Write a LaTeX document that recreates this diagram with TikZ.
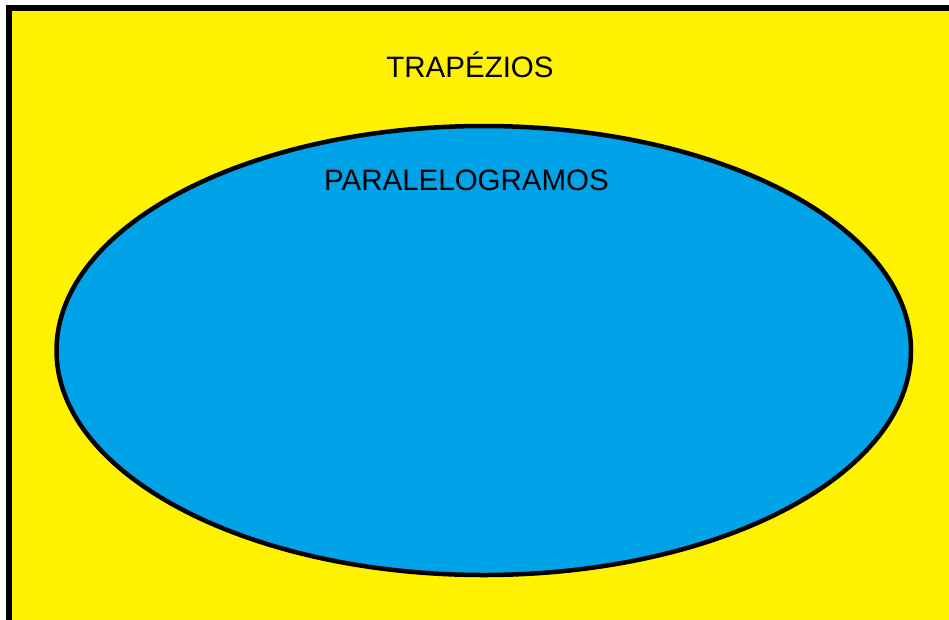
\documentclass[tikz,border=0pt]{standalone}
\usepackage{fontspec}
\setmainfont{Liberation Sans}
\usepackage{tikz}
\usepackage{color}

\definecolor{paintyellow}{RGB}{255,242,0}
\definecolor{paintblue}{RGB}{0,162,232}

\begin{document}
\begin{tikzpicture}[%
      x=1pt,y=-1pt,
      label/.style={anchor=base,font=\fontsize{29.5}{31}\selectfont,text=black},
      ]
      \useasboundingbox (0,0) rectangle (949,619);
      \clip (0,0) rectangle (949,619);
      \filldraw [fill=paintyellow, draw=black, line width=6pt] (9,8) rectangle (970,640);
      
      \filldraw [fill=paintblue, draw=black, line width=4.5pt] (483.75,350.5) ellipse [x radius=427.25, y radius=224.5];
      
      \node [label] (trapezios) at (470,77) {TRAPÉZIOS};
      \node [label] (paralelogramos) at (466.5,190) {PARALELOGRAMOS};
      \end{tikzpicture}
\end{document}
